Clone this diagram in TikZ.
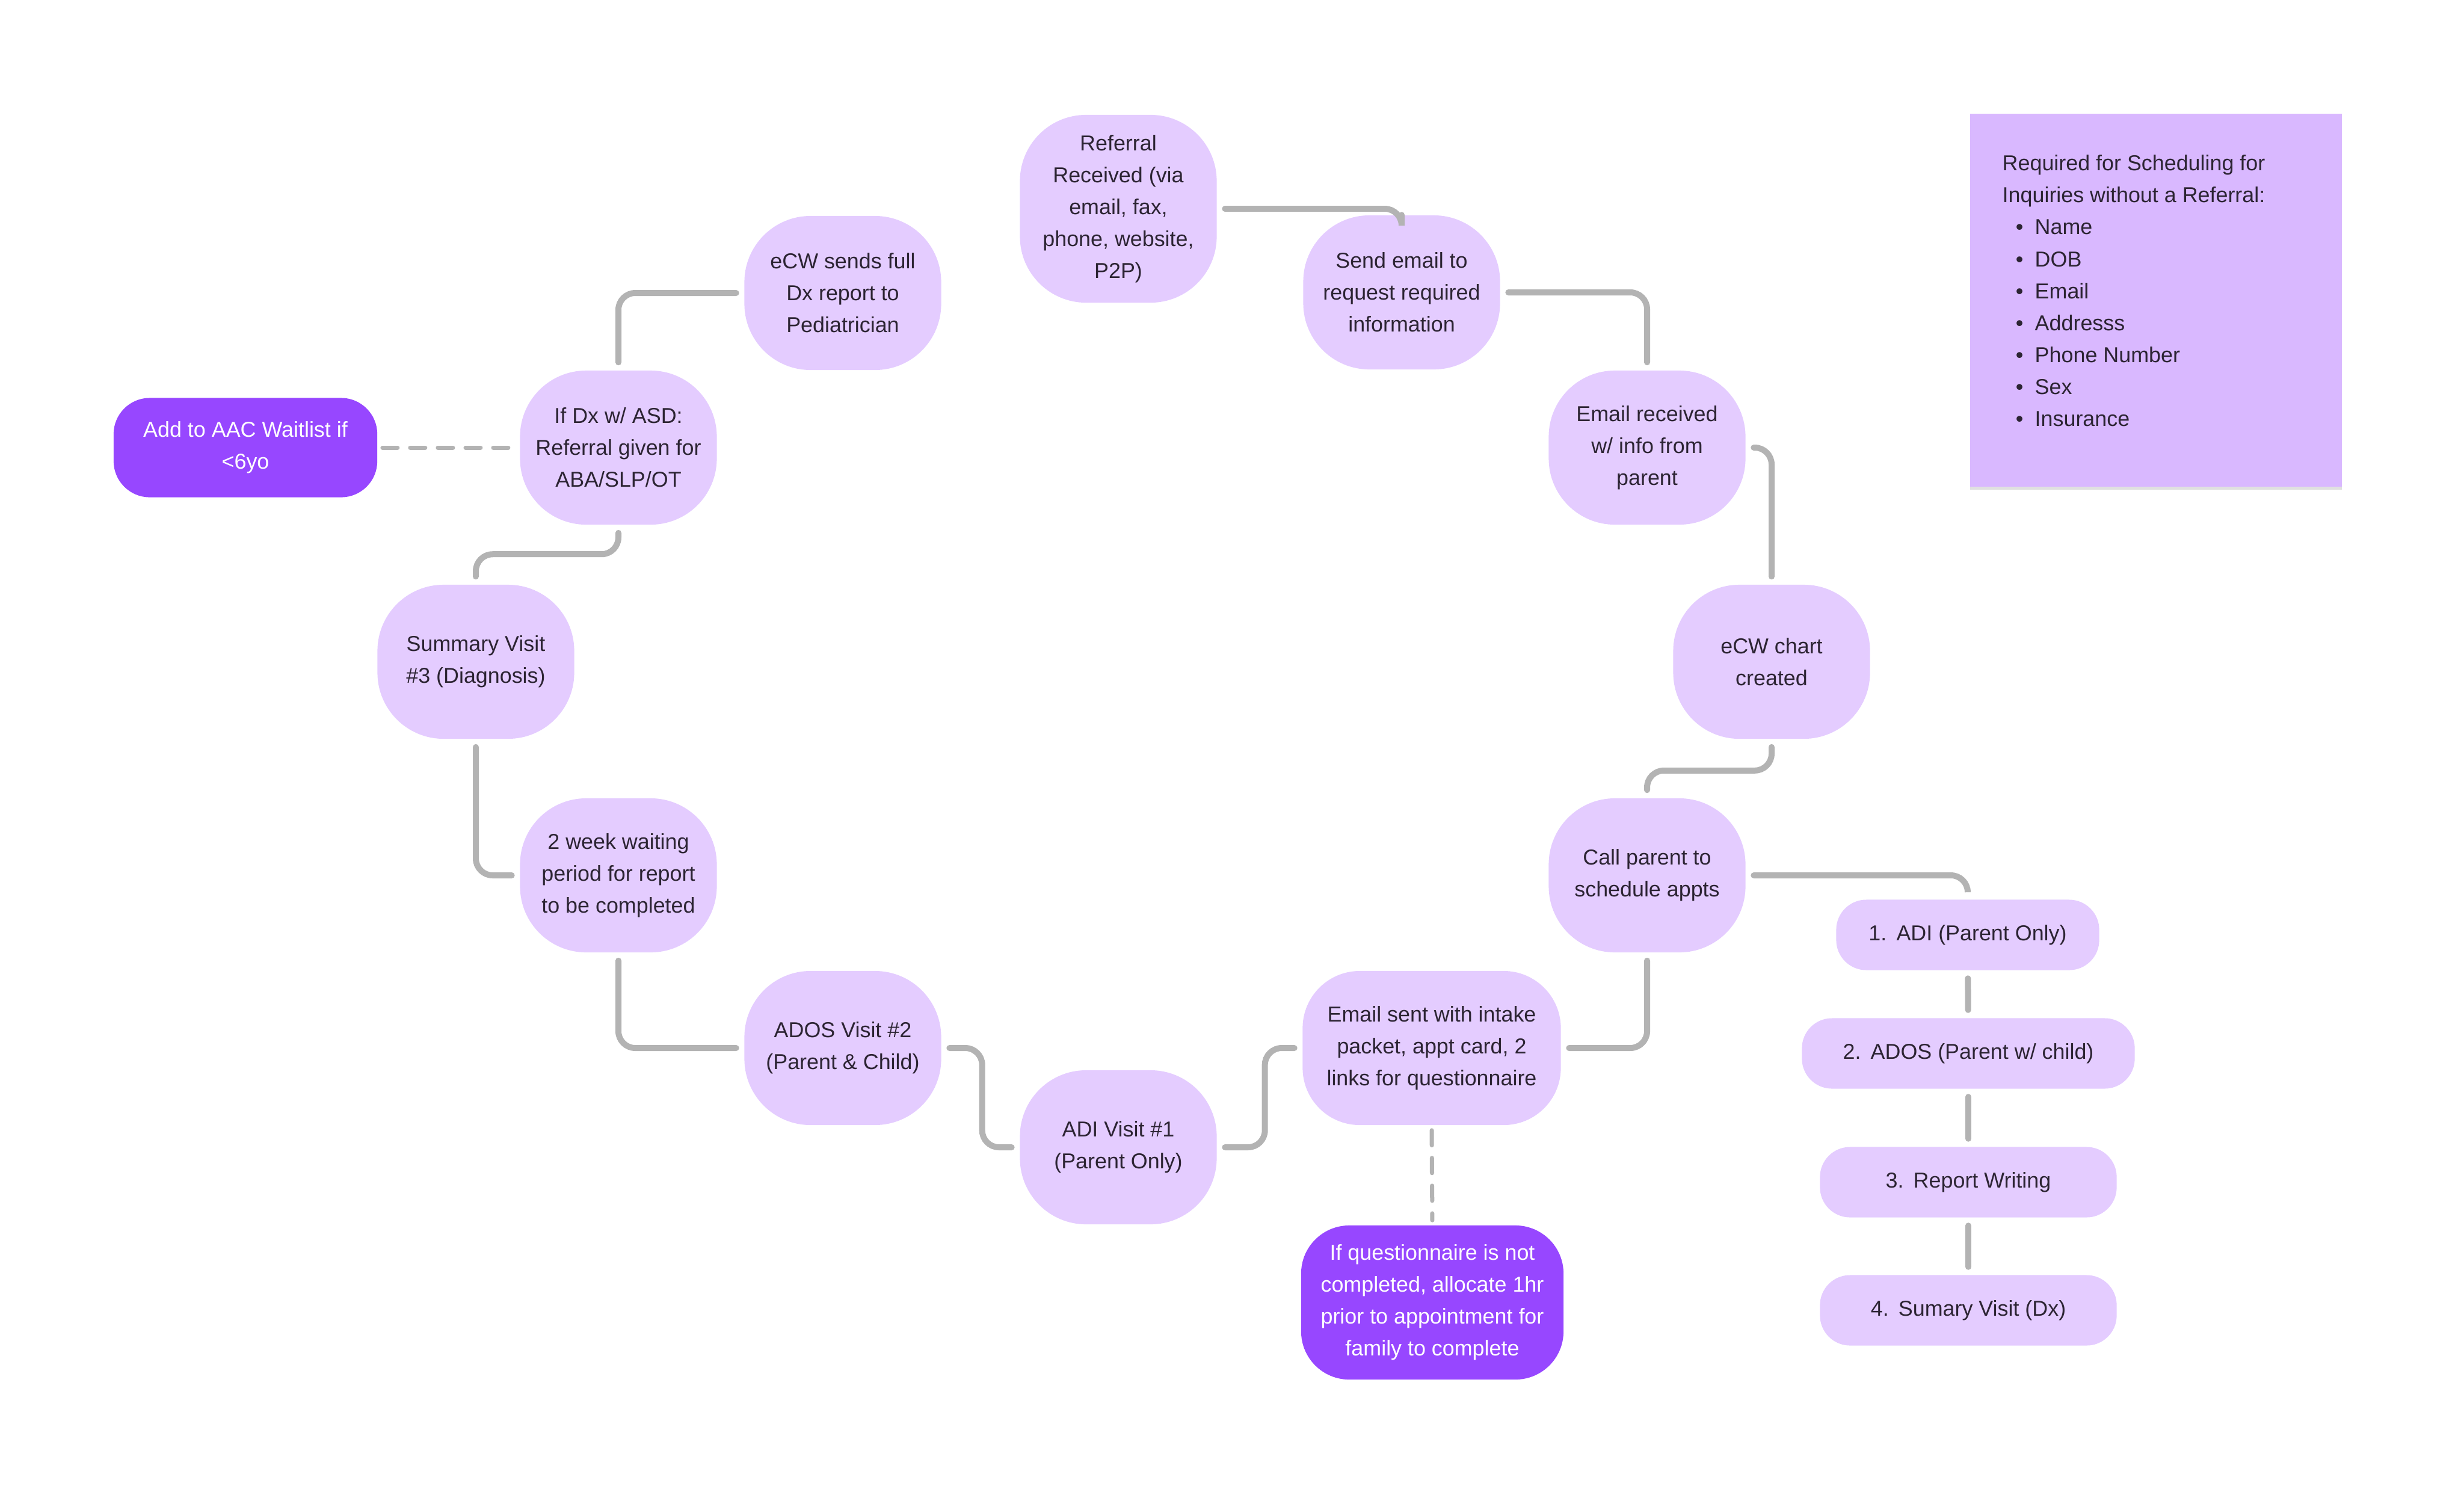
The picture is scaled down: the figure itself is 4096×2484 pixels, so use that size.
\documentclass[tikz,border=0pt]{standalone}
\usepackage{fontspec}
\setmainfont{Liberation Sans}
\usetikzlibrary{shadows}

\definecolor{stepfill}{HTML}{E4CCFF}
\definecolor{notefill}{HTML}{D9B8FF}
\definecolor{alertfill}{HTML}{9747FF}
\definecolor{linkgray}{HTML}{B3B3B3}
\definecolor{inkdark}{HTML}{2C2433}

\tikzset{
  stepbox/.style={fill=stepfill, text=inkdark, align=center, inner sep=0pt,
    rounded corners=1.1cm, minimum width=3.27cm, minimum height=2.56cm},
  widebox/.style={stepbox, minimum width=4.29cm, rounded corners=0.95cm},
  alertbox/.style={widebox, fill=alertfill, text=white},
  listbox/.style={fill=stepfill, text=inkdark, inner sep=0pt,
    rounded corners=0.5cm, minimum height=1.17cm},
  notebox/.style={fill=notefill, minimum width=6.17cm, minimum height=6.2cm,
    drop shadow={shadow xshift=0cm, shadow yshift=-0.05cm, fill=black, opacity=0.12}},
  link/.style={draw=linkgray, line width=0.1cm, line cap=round,
    rounded corners=0.28cm, shorten <=0.13cm, shorten >=0.13cm},
  dashlink/.style={draw=linkgray, line width=0.07cm, line cap=round,
    dash pattern=on 0.25cm off 0.21cm, shorten <=0.08cm, shorten >=0.08cm},
}
\newcommand{\itembullet}{\hspace*{0.22cm}\makebox[0.32cm][l]{\textbullet}}

\begin{document}
\begin{tikzpicture}[x=0.01cm, y=-0.01cm, font=\fontsize{10.2}{15.1}\selectfont]
  \useasboundingbox (0,0) rectangle (4096,2484);

  % the loop
  \node[stepbox, minimum height=3.12cm] (referral) at (1859,347) {Referral\\Received (via\\email, fax,\\phone, website,\\P2P)};
  \node[stepbox] (sendmail) at (2330,486) {Send email to\\request required\\information};
  \node[stepbox] (emailrcv) at (2738,744) {Email received\\w/ info from\\parent};
  \node[stepbox] (chart) at (2945,1100) {eCW chart\\created};
  \node[stepbox] (callpar) at (2738,1455) {Call parent to\\schedule appts};
  \node[widebox] (emailsent) at (2380,1742) {Email sent with intake\\packet, appt card, 2\\links for questionnaire};
  \node[stepbox] (adi) at (1859,1907) {ADI Visit \#1\\(Parent Only)};
  \node[stepbox] (ados) at (1401,1742) {ADOS Visit \#2\\(Parent \& Child)};
  \node[stepbox] (wait) at (1028,1455) {2 week waiting\\period for report\\to be completed};
  \node[stepbox] (summary) at (791,1100) {Summary Visit\\\#3 (Diagnosis)};
  \node[stepbox] (ifdx) at (1028,744) {If Dx w/ ASD:\\Referral given for\\ABA/SLP/OT};
  \node[stepbox] (ecwsend) at (1401,487) {eCW sends full\\Dx report to\\Pediatrician};

  % side notes
  \node[alertbox, minimum width=4.38cm, minimum height=1.65cm, rounded corners=0.6cm] (aac) at (408,744) {Add to AAC Waitlist if\\<6yo};
  \node[alertbox, minimum width=4.36cm, rounded corners=0.8cm] (questn) at (2381,2165) {If questionnaire is not\\completed, allocate 1hr\\prior to appointment for\\family to complete};

  % appointment list
  \node[listbox, minimum width=4.37cm] (list1) at (3271,1554) {1.\hspace{0.45em}ADI (Parent Only)};
  \node[listbox, minimum width=5.53cm] (list2) at (3272,1751) {2.\hspace{0.45em}ADOS (Parent w/ child)};
  \node[listbox, minimum width=4.93cm] (list3) at (3272,1965) {3.\hspace{0.45em}Report Writing};
  \node[listbox, minimum width=4.93cm] (list4) at (3272,2178) {4.\hspace{0.45em}Sumary Visit (Dx)};

  % sticky note
  \node[notebox] (note) at (3584,499) {};
  \node[anchor=north west, inner sep=0pt, align=left, text=inkdark] (notetext) at (3328,257)
    {Required for Scheduling for\\Inquiries without a Referral:\\
     \itembullet Name\\\itembullet DOB\\\itembullet Email\\\itembullet Addresss\\
     \itembullet Phone Number\\\itembullet Sex\\\itembullet Insurance};

  % connectors
  \draw[link, shorten >=0pt] (referral.east) -| (sendmail.north);
  \draw[link] (sendmail.east) -| (emailrcv.north);
  \draw[link] (emailrcv.east) -| (chart.north);
  \draw[link] (chart.south) -- ++(0,52) -| (callpar.north);
  \draw[link] (callpar.south) |- (emailsent.east);
  \draw[link] (emailsent.west) -- ++(-62,0) |- (adi.east);
  \draw[link] (adi.west) -- ++(-62,0) |- (ados.east);
  \draw[link] (ados.west) -| (wait.south);
  \draw[link] (wait.west) -| (summary.south);
  \draw[link] (summary.north) -- ++(0,-50) -| (ifdx.south);
  \draw[link] (ifdx.north) |- (ecwsend.west);
  \draw[link] (callpar.east) -| (list1.north);
  \draw[link] (list1) -- (list2);
  \draw[link] (list2) -- (list3);
  \draw[link] (list3) -- (list4);
  \draw[dashlink] (aac.east) -- (ifdx.west);
  \draw[dashlink] (emailsent.south) -- (questn.north);
\end{tikzpicture}
\end{document}
